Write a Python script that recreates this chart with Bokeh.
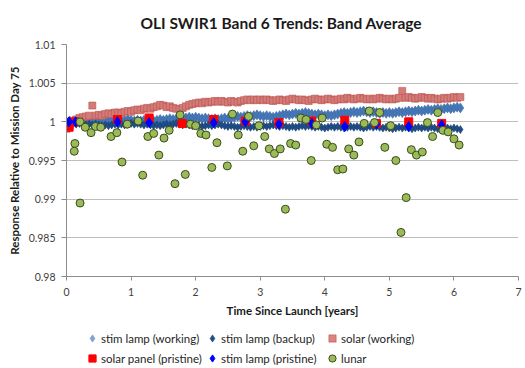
from bokeh.plotting import figure
from bokeh.layouts import column
from bokeh.models import Legend, LegendItem, FixedTicker
from bokeh.embed import file_html
from bokeh.resources import INLINE

FONT = "Lato"

title_text = "OLI SWIR1 Band 6 Trends: Band Average"
x_label = "Time Since Launch [years]"
y_label = "Response Relative to Mission Day 75"

x_ticks = [0, 1, 2, 3, 4, 5, 6, 7]
y_ticks = [0.98, 0.985, 0.99, 0.995, 1.0, 1.005, 1.01]
y_tick_labels = ["0.98", "0.985", "0.99", "0.995", "1", "1.005", "1.01"]

t_dense = [
    0.00, 0.05, 0.10, 0.15, 0.20, 0.25, 0.30, 0.35, 0.40, 0.45,
    0.50, 0.55, 0.60, 0.65, 0.70, 0.75, 0.80, 0.85, 0.90, 0.95,
    1.00, 1.05, 1.10, 1.15, 1.20, 1.25, 1.30, 1.35, 1.40, 1.45,
    1.50, 1.55, 1.60, 1.65, 1.70, 1.75, 1.80, 1.85, 1.90, 1.95,
    2.00, 2.05, 2.10, 2.15, 2.20, 2.25, 2.30, 2.35, 2.40, 2.45,
    2.50, 2.55, 2.60, 2.65, 2.70, 2.75, 2.80, 2.85, 2.90, 2.95,
    3.00, 3.05, 3.10, 3.15, 3.20, 3.25, 3.30, 3.35, 3.40, 3.45,
    3.50, 3.55, 3.60, 3.65, 3.70, 3.75, 3.80, 3.85, 3.90, 3.95,
    4.00, 4.05, 4.10, 4.15, 4.20, 4.25, 4.30, 4.35, 4.40, 4.45,
    4.50, 4.55, 4.60, 4.65, 4.70, 4.75, 4.80, 4.85, 4.90, 4.95,
    5.00, 5.05, 5.10, 5.15, 5.20, 5.25, 5.30, 5.35, 5.40, 5.45,
    5.50, 5.55, 5.60, 5.65, 5.70, 5.75, 5.80, 5.85, 5.90, 5.95,
    6.00, 6.05, 6.10,
]

stim_lamp_working = [
    1.0000, 1.0001, 1.0000, 1.0001, 1.0002, 1.0001, 1.0000, 1.0001, 1.0000, 1.0001,
    1.0000, 0.9999, 1.0000, 1.0001, 1.0002, 1.0001, 1.0002, 1.0001, 1.0002, 1.0003,
    1.0002, 1.0001, 1.0002, 1.0001, 1.0002, 1.0001, 1.0000, 1.0001, 1.0002, 1.0003,
    1.0002, 1.0003, 1.0004, 1.0003, 1.0004, 1.0005, 1.0004, 1.0005, 1.0006, 1.0005,
    1.0006, 1.0005, 1.0004, 1.0005, 1.0004, 1.0003, 1.0004, 1.0003, 1.0004, 1.0005,
    1.0004, 1.0005, 1.0006, 1.0007, 1.0006, 1.0007, 1.0008, 1.0007, 1.0008, 1.0009,
    1.0008, 1.0007, 1.0008, 1.0007, 1.0006, 1.0007, 1.0008, 1.0009, 1.0010, 1.0009,
    1.0010, 1.0011, 1.0010, 1.0011, 1.0012, 1.0011, 1.0010, 1.0009, 1.0010, 1.0009,
    1.0008, 1.0009, 1.0008, 1.0009, 1.0010, 1.0011, 1.0012, 1.0011, 1.0012, 1.0013,
    1.0012, 1.0013, 1.0014, 1.0013, 1.0012, 1.0013, 1.0012, 1.0011, 1.0012, 1.0011,
    1.0012, 1.0011, 1.0012, 1.0013, 1.0012, 1.0013, 1.0014, 1.0013, 1.0014, 1.0015,
    1.0014, 1.0015, 1.0016, 1.0015, 1.0016, 1.0017, 1.0016, 1.0017, 1.0018, 1.0017,
    1.0018, 1.0019, 1.0018,
]

stim_lamp_backup = [
    1.0000, 0.9999, 0.9998, 0.9997, 0.9998, 0.9997, 0.9996, 0.9997, 0.9996, 0.9997,
    0.9996, 0.9995, 0.9996, 0.9995, 0.9996, 0.9997, 0.9996, 0.9997, 0.9996, 0.9997,
    0.9998, 0.9997, 0.9998, 0.9997, 0.9996, 0.9997, 0.9996, 0.9995, 0.9996, 0.9995,
    0.9996, 0.9997, 0.9996, 0.9997, 0.9998, 0.9997, 0.9996, 0.9997, 0.9996, 0.9995,
    0.9996, 0.9995, 0.9994, 0.9995, 0.9996, 0.9995, 0.9996, 0.9997, 0.9996, 0.9995,
    0.9994, 0.9995, 0.9994, 0.9993, 0.9994, 0.9995, 0.9994, 0.9993, 0.9994, 0.9993,
    0.9994, 0.9995, 0.9994, 0.9995, 0.9996, 0.9995, 0.9994, 0.9995, 0.9994, 0.9993,
    0.9994, 0.9993, 0.9994, 0.9995, 0.9994, 0.9995, 0.9994, 0.9993, 0.9994, 0.9993,
    0.9992, 0.9993, 0.9994, 0.9993, 0.9994, 0.9993, 0.9992, 0.9993, 0.9994, 0.9993,
    0.9994, 0.9993, 0.9992, 0.9993, 0.9994, 0.9993, 0.9994, 0.9993, 0.9992, 0.9993,
    0.9992, 0.9991, 0.9992, 0.9993, 0.9992, 0.9993, 0.9992, 0.9991, 0.9992, 0.9993,
    0.9992, 0.9993, 0.9992, 0.9993, 0.9992, 0.9991, 0.9992, 0.9991, 0.9992, 0.9991,
    0.9992, 0.9991, 0.9990,
]

solar_working = [
    0.9991, 0.9995, 0.9999, 1.0003, 1.0005, 1.0006, 1.0007, 1.0008, 1.0021, 1.0008,
    1.0009, 1.0008, 1.0010, 1.0011, 1.0010, 1.0012, 1.0012, 1.0011, 1.0013, 1.0014,
    1.0013, 1.0015, 1.0016, 1.0015, 1.0017, 1.0018, 1.0017, 1.0019, 1.0020, 1.0022,
    1.0021, 1.0019, 1.0020, 1.0018, 1.0017, 1.0016, 1.0018, 1.0020, 1.0022, 1.0023,
    1.0024, 1.0025, 1.0024, 1.0026, 1.0025, 1.0026, 1.0027, 1.0026, 1.0027, 1.0026,
    1.0025, 1.0027, 1.0026, 1.0025, 1.0027, 1.0028, 1.0029, 1.0028, 1.0029, 1.0028,
    1.0029, 1.0028, 1.0029, 1.0028, 1.0027, 1.0028, 1.0029, 1.0028, 1.0027, 1.0029,
    1.0030, 1.0029, 1.0028, 1.0029, 1.0028, 1.0027, 1.0029, 1.0030, 1.0029, 1.0028,
    1.0029, 1.0030, 1.0029, 1.0028, 1.0029, 1.0030, 1.0029, 1.0031, 1.0030, 1.0029,
    1.0030, 1.0031, 1.0030, 1.0029, 1.0030, 1.0029, 1.0030, 1.0031, 1.0030, 1.0029,
    1.0030, 1.0029, 1.0030, 1.0031, 1.0040, 1.0031, 1.0032, 1.0031, 1.0030, 1.0031,
    1.0032, 1.0031, 1.0030, 1.0031, 1.0030, 1.0029, 1.0030, 1.0031, 1.0030, 1.0031,
    1.0032, 1.0031, 1.0032,
]

t_panel_pristine = [0.04, 0.12, 0.79, 1.28, 1.79, 2.28, 2.77, 3.29, 3.80, 4.31, 4.80, 5.30, 5.81]
solar_panel_pristine = [0.9993, 1.0000, 1.0003, 1.0005, 0.9998, 1.0003, 1.0001, 0.9999, 1.0001, 1.0002, 0.9998, 1.0000, 0.9998]

t_lamp_pristine = [0.04, 0.14, 0.79, 1.28, 2.28, 2.77, 3.29, 3.80, 4.31, 4.80, 5.30, 5.81]
stim_lamp_pristine = [1.0000, 1.0000, 1.0000, 0.9999, 0.9999, 1.0000, 0.9997, 0.9998, 0.9994, 0.9997, 0.9994, 0.9996]

t_lunar = [
    0.13, 0.12, 0.21, 0.21, 0.29, 0.38, 0.45, 0.53, 0.69, 0.78,
    0.86, 0.94, 1.11, 1.18, 1.26, 1.35, 1.43, 1.51, 1.59, 1.68,
    1.76, 1.84, 1.92, 2.00, 2.08, 2.16, 2.25, 2.33, 2.49, 2.57,
    2.66, 2.73, 2.82, 2.90, 2.98, 3.07, 3.14, 3.22, 3.31, 3.39,
    3.47, 3.55, 3.63, 3.71, 3.79, 3.87, 3.96, 4.03, 4.12, 4.20,
    4.28, 4.37, 4.45, 4.53, 4.61, 4.69, 4.77, 4.85, 4.93, 5.02,
    5.10, 5.18, 5.26, 5.34, 5.42, 5.51, 5.59, 5.67, 5.75, 5.83,
    5.91, 6.00, 6.08,
]
lunar = [
    0.9972, 0.9962, 1.0000, 0.9895, 0.9993, 0.9986, 0.9994, 0.9993, 0.9981, 0.9986,
    0.9948, 0.9997, 1.0001, 0.9931, 0.9981, 0.9985, 0.9957, 0.9979, 0.9989, 0.9920,
    1.0009, 0.9932, 0.9997, 0.9995, 0.9985, 0.9983, 0.9941, 0.9973, 0.9943, 1.0010,
    0.9983, 0.9962, 1.0007, 0.9969, 0.9995, 0.9981, 0.9965, 0.9959, 0.9965, 0.9887,
    0.9972, 0.9970, 1.0005, 1.0003, 0.9950, 0.9996, 1.0005, 0.9971, 0.9967, 0.9938,
    0.9939, 0.9965, 0.9957, 0.9974, 0.9998, 1.0014, 0.9999, 1.0012, 0.9967, 0.9995,
    0.9950, 0.9857, 0.9902, 0.9964, 0.9957, 0.9961, 0.9999, 0.9981, 1.0012, 0.9989,
    0.9987, 0.9978, 0.9970,
]

series_labels = ["stim lamp (working)", "stim lamp (backup)", "solar (working)",
                 "solar panel (pristine)", "stim lamp (pristine)", "lunar"]
series_x = [t_dense, t_dense, t_dense, t_panel_pristine, t_lamp_pristine, t_lunar]
series_y = [stim_lamp_working, stim_lamp_backup, solar_working,
            solar_panel_pristine, stim_lamp_pristine, lunar]

STY = [
    dict(marker="diamond", size=10, fill_color="#4677B6", line_color="#3A6AA8", line_width=0.6),
    dict(marker="diamond", size=8, fill_color="#1F4D88", line_color="#183E70", line_width=0.6),
    dict(marker="square", size=7, fill_color="#D27B78", line_color="#BE524F", line_width=0.6),
    dict(marker="square", size=8, fill_color="#FF0000", line_color="#FF0000"),
    dict(marker="diamond", size=10, fill_color="#0000FF", line_color="#0000FF"),
    dict(marker="circle", size=8, fill_color="#9BBB59", line_color="#3B4B1D", line_width=1),
]
LEG_STY = [
    dict(marker="diamond", fill_color="#7FA3D6", line_color="#6D92C8", line_width=0.6),
    dict(marker="diamond", fill_color="#234E86", line_color="#1B3F6E", line_width=0.6),
    dict(marker="square", fill_color="#D88582", line_color="#C0504D", line_width=0.6),
    dict(marker="square", fill_color="#FF0000", line_color="#FF0000"),
    dict(marker="diamond", fill_color="#0000FF", line_color="#0000FF"),
    dict(marker="circle", fill_color="#9BBB59", line_color="#3B4B1D", line_width=1),
]

p = figure(width=525, height=325, output_backend="svg", toolbar_location=None,
           x_range=(0, 7), y_range=(0.98, 1.01),
           min_border_left=66, min_border_right=7, min_border_top=44, min_border_bottom=49)
p.outline_line_color = None
p.background_fill_color = "white"

for xs, ys, sty in zip(series_x, series_y, STY):
    p.scatter(xs, ys, **sty)

# axes
p.xaxis.ticker = FixedTicker(ticks=x_ticks)
p.yaxis.ticker = FixedTicker(ticks=y_ticks)
p.yaxis.major_label_overrides = dict(zip(y_ticks, y_tick_labels))
for ax in (p.xaxis[0], p.yaxis[0]):
    ax.axis_line_color = "#8C8C8C"
    ax.major_tick_line_color = "#8C8C8C"
    ax.minor_tick_line_color = None
    ax.major_tick_in = 0
    ax.major_label_text_font = FONT
    ax.major_label_text_font_size = "10.5px"
    ax.major_label_text_color = "#404040"
    ax.axis_label_text_font = FONT
    ax.axis_label_text_font_size = "11.5px"
    ax.axis_label_text_font_style = "bold"
    ax.axis_label_text_color = "#1A1A1A"
p.xaxis.major_tick_out = 4
p.yaxis.major_tick_out = 5
p.xaxis.major_label_standoff = 7
p.yaxis.major_label_standoff = 6
p.xaxis.axis_label = x_label
p.yaxis.axis_label = y_label
p.xaxis.axis_label_standoff = 5
p.yaxis.axis_label_standoff = 5

p.xgrid.visible = False
p.ygrid.grid_line_color = "#BEBEBE"
p.ygrid.grid_line_width = 1

# title
p.title.text = title_text
p.title.align = "left"
p.title.offset = 74
p.title.vertical_align = "middle"
p.title.standoff = 23
p.title.text_font = FONT
p.title.text_font_size = "15.5px"
p.title.text_font_style = "bold"
p.title.text_color = "#1A1A1A"

# legend strip below the chart: the same series, drawn outside this strip's view,
# so that only their legend glyphs show
lf = figure(width=525, height=43, output_backend="svg", toolbar_location=None,
            x_axis_type=None, y_axis_type=None, x_range=(100, 101), y_range=(100, 101),
            min_border=0, min_border_left=0, min_border_right=0,
            min_border_top=0, min_border_bottom=0)
lf.outline_line_color = None
lf.background_fill_color = "white"
items = []
for xs, ys, sty, lab in zip(series_x, series_y, LEG_STY, series_labels):
    r = lf.scatter(xs, ys, **sty)
    items.append(LegendItem(label=lab, renderers=[r]))

legend = Legend(items=items, orientation="horizontal", ncols=3, location=(17, 0),
                glyph_width=18, glyph_height=20, label_height=20, label_width=102,
                label_standoff=0, spacing=0, padding=0, margin=0,
                border_line_color=None, background_fill_alpha=0,
                label_text_font=FONT, label_text_font_size="11.5px", label_text_color="#262626")
lf.add_layout(legend, "center")

layout = column(p, lf, spacing=0)
open("out.html", "w").write(file_html(layout, INLINE))
